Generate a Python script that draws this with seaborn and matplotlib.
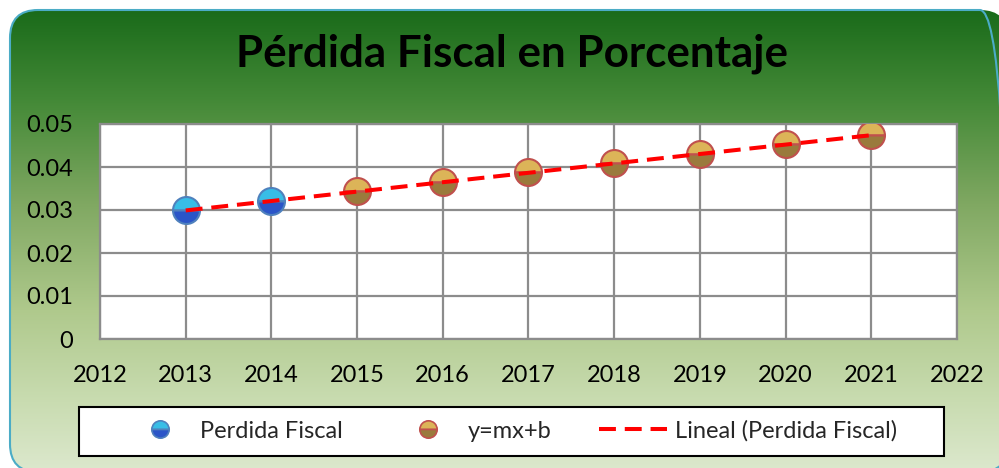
import numpy as np
import matplotlib
matplotlib.use("Agg")
import matplotlib.pyplot as plt
import seaborn as sns
from matplotlib.patches import FancyBboxPatch, Rectangle
from matplotlib.colors import LinearSegmentedColormap
from matplotlib.lines import Line2D

# data
years_real = [2013, 2014]
perdida_real = [0.0299, 0.0321]
years_proj = [2015, 2016, 2017, 2018, 2019, 2020, 2021]
perdida_proj = [0.0344, 0.0366, 0.0388, 0.0409, 0.0431, 0.0453, 0.0474]
trend_years = [2013, 2021]
trend_vals = [0.0299, 0.0474]

title = "Pérdida Fiscal en Porcentaje"
x_ticks = list(range(2012, 2023))
y_ticks = [0, 0.01, 0.02, 0.03, 0.04, 0.05]
y_labels = ["0", "0.01", "0.02", "0.03", "0.04", "0.05"]
labels = ["Perdida Fiscal", "y=mx+b", "Lineal (Perdida Fiscal)"]

sns.set_style("white")
plt.rcParams['font.family'] = ['Lato', 'DejaVu Sans']

W, H = 999, 468
fig = plt.figure(figsize=(W / 100, H / 100), dpi=100)
fig.patch.set_facecolor("white")

# green gradient background with rounded corners (pixel coords, y up)
bg = fig.add_axes([0, 0, 1, 1])
cmap = LinearSegmentedColormap.from_list(
    "bg", [(0.0, "#1a6b1a"), (0.2, "#458a38"), (0.42, "#80a862"),
           (0.65, "#afc98c"), (0.85, "#c9dcb1"), (1.0, "#dce8cd")])
grad = np.linspace(0, 1, 256).reshape(-1, 1)
im = bg.imshow(grad, cmap=cmap, aspect="auto", origin="upper",
               extent=(10, 1008, -4, H - 10))
bg.set_xlim(0, W)
bg.set_ylim(0, H)
bg.axis("off")
box = FancyBboxPatch((10, -4), 998, H - 6, boxstyle="round,pad=0,rounding_size=28",
                     facecolor="none", edgecolor="#4bacc6", linewidth=1.5)
bg.add_patch(box)
im.set_clip_path(box)

# legend frame
bg.add_patch(Rectangle((79, H - 456), 865, 49, facecolor="white", edgecolor="black",
                       linewidth=1.5, zorder=5))

fig.text(512 / W, 1 - 66 / H, title, ha="center", va="baseline",
         fontsize=31.7, fontweight="bold", color="black")

ax = fig.add_axes([100 / W, 1 - 339 / H, 857 / W, 215 / H])
ax.set_facecolor("white")

dash = (0, (4.2, 2.2))
sns.lineplot(x=trend_years, y=trend_vals, ax=ax, color="#ff0000", linewidth=2.9,
             linestyle=dash, zorder=4)
sns.lineplot(x=years_real, y=perdida_real, ax=ax, marker="o", linestyle="", markersize=19.4,
             fillstyle="top", markerfacecolor="#38bde6", markerfacecoloralt="#2b55c8",
             markeredgecolor="#4f81bd", markeredgewidth=1.5, zorder=3)
sns.lineplot(x=years_proj, y=perdida_proj, ax=ax, marker="o", linestyle="", markersize=19.4,
             fillstyle="top", markerfacecolor="#dcb458", markerfacecoloralt="#9a7a3c",
             markeredgecolor="#c0504d", markeredgewidth=1.5, zorder=3)

ax.set_xlim(2012, 2022)
ax.set_ylim(0, 0.05)
ax.set_xticks(x_ticks)
ax.set_xticklabels([str(v) for v in x_ticks])
ax.set_yticks(y_ticks)
ax.set_yticklabels(y_labels)
ax.grid(True, color="#8c8c8c", linewidth=1.6)
ax.set_axisbelow(True)
for s in ax.spines.values():
    s.set_color("#8c8c8c")
    s.set_linewidth(1.6)
ax.tick_params(axis="both", direction="out", length=5.8, width=1.6, color="#8c8c8c",
               labelsize=17, labelcolor="black")
ax.tick_params(axis="y", pad=13.5)
ax.tick_params(axis="x", pad=13.0)
ax.set_xlabel("")
ax.set_ylabel("")

# legend entries, one per slot like the original
h_real = Line2D([], [], marker="o", linestyle="", markersize=12.5, fillstyle="top",
                markerfacecolor="#38bde6", markerfacecoloralt="#2b55c8",
                markeredgecolor="#4f81bd", markeredgewidth=1.2)
h_proj = Line2D([], [], marker="o", linestyle="", markersize=12.5, fillstyle="top",
                markerfacecolor="#dcb458", markerfacecoloralt="#9a7a3c",
                markeredgecolor="#c0504d", markeredgewidth=1.2)
h_trend = Line2D([], [], color="#ff0000", linewidth=2.9, linestyle=dash)

slots = [(h_real, labels[0], 148.2, 1.0, 1.2),
         (h_proj, labels[1], 416.2, 1.0, 1.18),
         (h_trend, labels[2], 599.0, 2.88, 0.33)]
for h, lab, x0, hl, htp in slots:
    lg = fig.legend([h], [lab], loc="center left", bbox_to_anchor=(x0 / W, 1 - 431 / H),
                    frameon=False, fontsize=17, borderpad=0, borderaxespad=0,
                    handlelength=hl, handletextpad=htp)
    lg.set_zorder(10)

fig.savefig("out.png", dpi=100)
